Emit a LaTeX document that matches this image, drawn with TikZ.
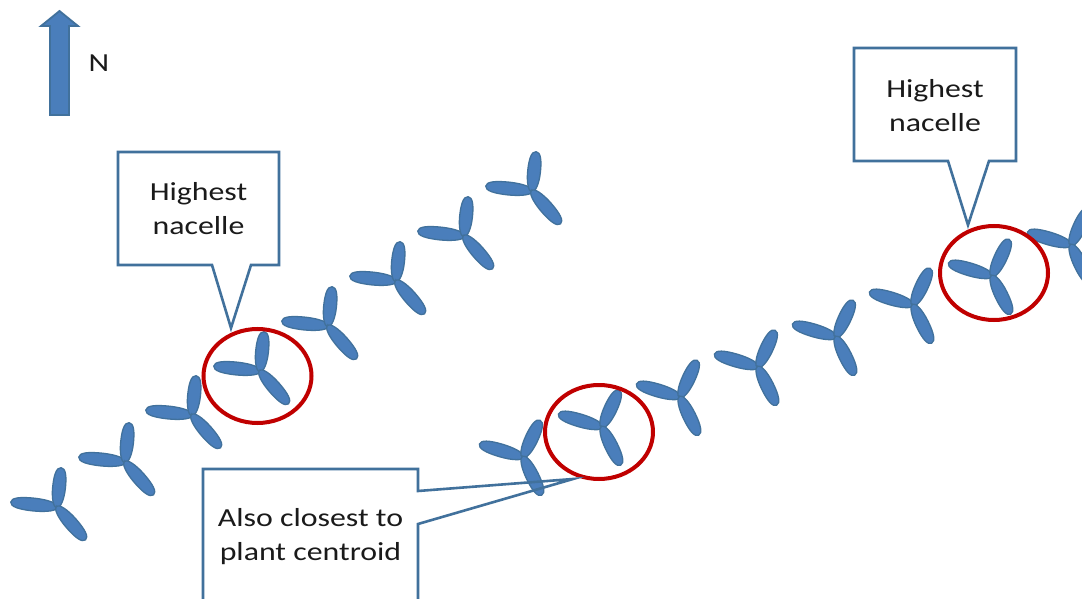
\documentclass[tikz,border=0pt]{standalone}
\usepackage{fontspec}
\setmainfont[FakeStretch=1.225]{Carlito}
\definecolor{bladefill}{HTML}{4A7EBB}
\definecolor{bladeline}{HTML}{41719C}
\definecolor{calloutline}{HTML}{41719C}
\definecolor{ringred}{HTML}{C00000}
\definecolor{labeltext}{HTML}{1A1A1A}
\tikzset{
  blade/.style={fill=bladefill,draw=bladeline,line width=1.3pt},
  calloutback/.style={fill=white},
  callout/.style={draw=calloutline,line width=2.6pt,line join=miter},
  ring/.style={draw=ringred,line width=4pt},
  label/.style={text=labeltext,font=\fontsize{26}{34}\selectfont,align=center,inner sep=0pt},
  northarrow/.style={fill=bladefill,draw=bladeline,line width=1.8pt,line join=miter}
}
% hub x, hub y, then angle and length of each of the three blades
\newcommand{\turbine}[8]{%
  \foreach \bladeang/\bladelen in {#3/#4,#5/#6,#7/#8}{%
    \draw[blade,shift={(#1,#2)},rotate=\bladeang]
      (-1pt,0pt) .. controls (-1pt,3.5pt) and ({\bladelen*0.2pt},6.4pt) .. ({\bladelen*0.5pt},6.4pt)
      .. controls ({\bladelen*0.8pt},6.4pt) and ({\bladelen*1pt-0.5pt},4.5pt) .. ({\bladelen*1pt-0.5pt},0pt)
      .. controls ({\bladelen*1pt-0.5pt},-4.5pt) and ({\bladelen*0.8pt},-6.4pt) .. ({\bladelen*0.5pt},-6.4pt)
      .. controls ({\bladelen*0.2pt},-6.4pt) and (-1pt,-3.5pt) .. cycle;
  }}
\newcommand{\rowone}[2]{\turbine{#1}{#2}{174}{47}{84}{40}{-49}{44}}
\newcommand{\rowtwo}[2]{\turbine{#1}{#2}{163.5}{46}{65}{41}{-64}{43}}
\begin{document}
\begin{tikzpicture}[x=1pt,y=-1pt]
\useasboundingbox (0,0) rectangle (1082,599);
\clip (0,0) rectangle (1082,599);
\fill[white] (0,0) rectangle (1082,599);
% white ground of the lower callout lies under the turbines
\fill[calloutback] (203,469) -- (418,469) -- (418,491) -- (573,479) -- (418,524) -- (418,615) -- (203,615) -- cycle;
% north arrow
\draw[northarrow] (50,115) -- (50,26) -- (41,26) -- (59.5,11) -- (78,26) -- (69,26) -- (69,115) -- cycle;
\node[label] (north) at (99,63) {N};
% first row
\rowone{57}{507}
\rowone{125}{462}
\rowone{192}{415}
\rowone{260}{371}
\rowone{328}{326}
\rowone{396}{281}
\rowone{464}{236}
\rowone{532}{191}
% second row
\rowtwo{523}{457}
\rowtwo{602}{427}
\rowtwo{680}{397}
\rowtwo{758}{367}
\rowtwo{836}{337}
\rowtwo{913}{305}
\rowtwo{992}{276}
\rowtwo{1071}{245}
% rings
\draw[ring] (257.5,376) ellipse (54pt and 47pt);
\draw[ring] (599,432) ellipse (54pt and 47pt);
\draw[ring] (994,273) ellipse (54pt and 47pt);
% callouts
\draw[callout,calloutback] (118,152) -- (279,152) -- (279,265) -- (251,265) -- (231,328) -- (212,265) -- (118,265) -- cycle;
\node[label] (high1) at (198.5,208.5) {Highest\\nacelle};
\draw[callout,calloutback] (854,48) -- (1016,48) -- (1016,161) -- (989,161) -- (968,225) -- (948,161) -- (854,161) -- cycle;
\node[label] (high2) at (935,105.5) {Highest\\nacelle};
\draw[callout] (203,469) -- (418,469) -- (418,491) -- (573,479) -- (418,524) -- (418,615) -- (203,615) -- cycle;
\node[label] (central) at (310.5,536.5) {Also closest to\\plant centroid};
\end{tikzpicture}
\end{document}
